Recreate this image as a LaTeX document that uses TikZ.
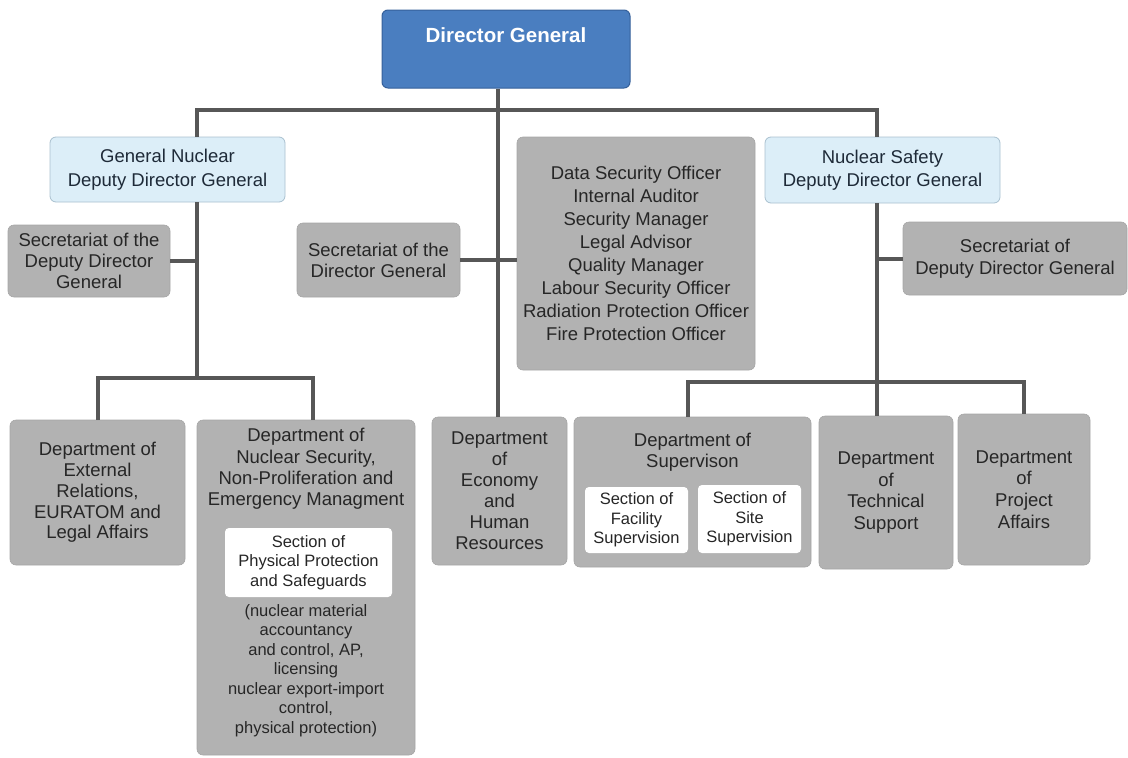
\documentclass[tikz,border=0pt]{standalone}
\usepackage{fontspec}
\setmainfont{Liberation Sans}
\definecolor{dgblue}{HTML}{4A7EC0}
\definecolor{dgedge}{HTML}{35609A}
\definecolor{ddgfill}{HTML}{DCEEF8}
\definecolor{ddgedge}{HTML}{A9C0CF}
\definecolor{ddgtext}{HTML}{1E2A38}
\definecolor{boxgray}{HTML}{B2B2B2}
\definecolor{boxedge}{HTML}{A6A6A6}
\definecolor{txt}{HTML}{262626}
\definecolor{linegray}{HTML}{575757}
\begin{document}
\begin{tikzpicture}[x=1pt,y=-1pt,
  box/.style={rounded corners=6pt, inner sep=0pt, align=center, text=txt,
    font=\fontsize{18.5}{22}\selectfont},
  graybox/.style={box, fill=boxgray, draw=boxedge, line width=0.6pt},
  ddgbox/.style={box, fill=ddgfill, draw=ddgedge, line width=0.8pt, text=ddgtext,
    font=\fontsize{18.5}{23.5}\selectfont},
  whitebox/.style={box, rounded corners=4pt, fill=white, draw=none,
    font=\fontsize{16.5}{19.5}\selectfont},
  label/.style={inner sep=0pt, align=center, text=txt},
  conn/.style={draw=linegray, line width=4pt}
]
\useasboundingbox (0,0) rectangle (1128,758);

% Director General
\node[box, fill=dgblue, draw=dgedge, line width=1pt,
  minimum width=248, minimum height=78] (dg) at (506,49) {};
\node[label, text=white, font=\fontsize{20.5}{24}\bfseries] (dgt) at (506,35) {Director General};

% Deputy directors general
\node[ddgbox, minimum width=235, minimum height=65] (gn) at (167.5,169.5)
  {General Nuclear\\Deputy Director General};
\node[ddgbox, minimum width=235, minimum height=66] (ns) at (882.5,170)
  {Nuclear Safety\\Deputy Director General};

% Secretariats and staff offices
\node[graybox, minimum width=162, minimum height=72,
  font=\fontsize{18.5}{21}\selectfont] (secL) at (89,261)
  {Secretariat of the\\Deputy Director\\General};
\node[graybox, minimum width=163, minimum height=74,
  font=\fontsize{18.5}{21}\selectfont] (secdg) at (378.5,260)
  {Secretariat of the\\Director General};
\node[graybox, minimum width=238, minimum height=233,
  font=\fontsize{18.5}{23.1}\selectfont] (off) at (636,253.5)
  {Data Security Officer\\Internal Auditor\\Security Manager\\Legal Advisor\\Quality Manager\\Labour Security Officer\\Radiation Protection Officer\\Fire Protection Officer};
\node[graybox, minimum width=224, minimum height=73,
  font=\fontsize{18.5}{22}\selectfont] (secR) at (1015,258.5)
  {Secretariat of\\Deputy Director General};

% Departments
\node[graybox, minimum width=175, minimum height=145,
  font=\fontsize{18.5}{20.8}\selectfont] (ext) at (97.5,492.5)
  {Department of\\External\\Relations,\\EURATOM and\\Legal Affairs};
\node[graybox, minimum width=218, minimum height=335] (nuc) at (306,587.5) {};
\node[label, font=\fontsize{18.5}{21.3}\selectfont] (nuct) at (306,469)
  {Department of\\Nuclear Security,\\Non-Proliferation and\\Emergency Managment};
\node[whitebox, minimum width=167, minimum height=69] (pps) at (308.5,562.5)
  {Section of\\Physical Protection\\and Safeguards};
\node[label, font=\fontsize{16.5}{19.5}\selectfont] (ppsd) at (306,670.5)
  {(nuclear material\\accountancy\\and control, AP,\\licensing\\nuclear export-import\\control,\\physical protection)};

\node[graybox, minimum width=135, minimum height=148,
  font=\fontsize{18.5}{21}\selectfont] (econ) at (499.5,491)
  {Department\\of\\Economy\\and\\Human\\Resources};

\node[graybox, minimum width=237, minimum height=150] (sup) at (692.5,492) {};
\node[label, font=\fontsize{18.5}{21}\selectfont] (supt) at (692.5,452.5)
  {Department of\\Supervison};
\node[whitebox, minimum width=103, minimum height=66] (fac) at (636.5,520)
  {Section of\\Facility\\Supervision};
\node[whitebox, minimum width=103, minimum height=68] (site) at (749.5,519)
  {Section of\\Site\\Supervision};

\node[graybox, minimum width=134, minimum height=153,
  font=\fontsize{18.5}{21.7}\selectfont] (tech) at (886,492.5)
  {Department\\of\\Technical\\Support};
\node[graybox, minimum width=132, minimum height=151,
  font=\fontsize{18.5}{21.7}\selectfont] (proj) at (1024,489.5)
  {Department\\of\\Project\\Affairs};

% Connector junctions
\coordinate (top) at (498,110);
\coordinate (gnx) at (197,0);
\coordinate (nsx) at (877,0);
\coordinate (nucx) at (313,0);
\coordinate (supx) at (688,0);
\coordinate (busL) at (197,378);
\coordinate (busR) at (877,382);

% Connectors
\draw[conn] (dg.south -| top) -- (top);
\draw[conn] (gn.north -| gnx) |- (top) -| (ns.north -| nsx);
\draw[conn] (top) -- (econ.north -| top);
\draw[conn] (secdg.east) -- (off.west |- secdg.east);

\draw[conn] (gn.south -| gnx) -- (busL);
\draw[conn] (secL.east) -- (secL.east -| gnx);
\draw[conn] (ext.north) |- (busL) -| (nuc.north -| nucx);

\draw[conn] (ns.south -| nsx) -- (busR);
\draw[conn] (secR.west) -- (secR.west -| nsx);
\draw[conn] (sup.north -| supx) |- (busR) -| (proj.north);
\draw[conn] (busR) -- (tech.north -| busR);
\end{tikzpicture}
\end{document}
